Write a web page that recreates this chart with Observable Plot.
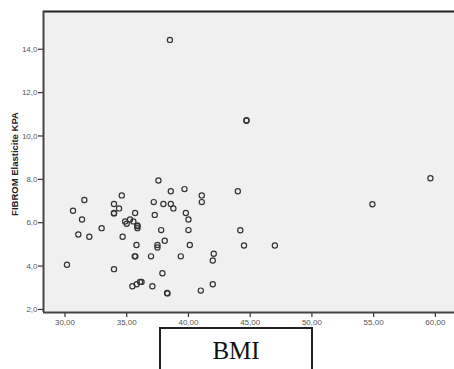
<!DOCTYPE html>
<html>
<head>
<meta charset="utf-8">
<script src="https://cdn.jsdelivr.net/npm/d3@7"></script>
<script src="https://cdn.jsdelivr.net/npm/@observablehq/plot@0.6"></script>
<style>
  html, body { margin: 0; padding: 0; background: #fff; }
  #wrap { position: relative; width: 454px; height: 369px; overflow: hidden; font-family: "Liberation Sans", Arial, sans-serif; }
  #ylab { position: absolute; left: 14px; top: 164px; transform: translate(-50%, -50%) rotate(-90deg); white-space: nowrap; font-weight: bold; font-size: 9.5px; color: #222; }
  #xbox { position: absolute; left: 159px; top: 327px; width: 154px; height: 60px; border: 2px solid #222; box-sizing: border-box; background: #fff; }
  #xbox span { position: absolute; left: 0; right: 0; top: 8px; text-align: center; font-family: "Liberation Serif", "Times New Roman", serif; font-size: 25px; color: #111; }
</style>
</head>
<body>
<div id="wrap"></div>
<script>
const xTicks = [30, 35, 40, 45, 50, 55, 60];
const yTicks = [2, 4, 6, 8, 10, 12, 14];
const xLabel = "BMI";
const yLabel = "FIBROM Elasticite KPA";

const bmi = [38.5, 44.7, 44.7, 59.6, 54.9, 44.0, 44.2, 44.5, 47.0, 42.05, 41.97, 41.97, 41.0,
  41.08, 41.08, 37.57, 38.57, 39.68, 31.57, 34.6, 30.65, 33.97, 34.38, 33.97, 33.97, 31.38,
  35.68, 37.19, 37.97, 38.57, 38.78, 37.27, 39.79, 40.0, 34.87, 35.0, 35.27, 35.54, 35.87,
  35.87, 35.87, 32.97, 31.08, 31.97, 34.67, 37.79, 40.0, 38.08, 35.79, 37.49, 37.49, 40.11,
  35.65, 35.7, 36.97, 39.38, 30.16, 33.97, 37.89, 35.46, 35.81, 36.08, 36.2, 37.08, 38.27, 38.3];
const kpa = [14.43, 10.73, 10.7, 8.05, 6.85, 7.45, 5.65, 4.95, 4.95, 4.57, 4.26, 3.16, 2.87,
  7.26, 6.95, 7.95, 7.45, 7.55, 7.05, 7.26, 6.55, 6.86, 6.66, 6.45, 6.43, 6.15,
  6.45, 6.95, 6.86, 6.86, 6.66, 6.36, 6.45, 6.15, 6.06, 5.95, 6.15, 6.06, 5.87,
  5.84, 5.75, 5.75, 5.46, 5.35, 5.35, 5.66, 5.66, 5.17, 4.97, 4.97, 4.86, 4.97,
  4.45, 4.45, 4.45, 4.45, 4.06, 3.86, 3.67, 3.07, 3.16, 3.27, 3.27, 3.07, 2.76, 2.74];

const data = bmi.map((b, i) => ({bmi: b, kpa: kpa[i]}));
const xDom = [28.26, 61.55];
const yDom = [1.86, 15.74];
const comma = (d, n) => d.toFixed(n).replace(".", ",");

const chart = Plot.plot({
  width: 454,
  height: 369,
  marginLeft: 43,
  marginRight: 0,
  marginTop: 11,
  marginBottom: 57,
  style: {background: "#fff", fontFamily: "Liberation Sans, Arial, sans-serif"},
  x: {domain: xDom, label: null},
  y: {domain: yDom, label: null},
  marks: [
    Plot.frame({fill: "#f0f0f0", stroke: null}),
    Plot.axisX({ticks: xTicks, tickFormat: d => comma(d, 2), tickSize: 5, tickPadding: 2, fontSize: 8, fill: "#555", stroke: "#333", strokeWidth: 1.2}),
    Plot.axisY({ticks: yTicks, tickFormat: d => comma(d, 1), tickSize: 5, tickPadding: 1, fontSize: 8, fill: "#555", stroke: "#333", strokeWidth: 1.2}),
    Plot.ruleY([yDom[1]], {stroke: "#222", strokeWidth: 1.8}),
    Plot.ruleY([yDom[0]], {stroke: "#444", strokeWidth: 2}),
    Plot.ruleX([xDom[0]], {stroke: "#444", strokeWidth: 2}),
    Plot.dot(data, {x: "bmi", y: "kpa", r: 2.6, stroke: "#333", strokeWidth: 1.2, fill: "none"})
  ]
});

const wrap = document.getElementById("wrap");
wrap.appendChild(chart);
const yl = document.createElement("div");
yl.id = "ylab";
yl.textContent = yLabel;
wrap.appendChild(yl);
const xb = document.createElement("div");
xb.id = "xbox";
const sp = document.createElement("span");
sp.textContent = xLabel;
xb.appendChild(sp);
wrap.appendChild(xb);
</script>
</body>
</html>
